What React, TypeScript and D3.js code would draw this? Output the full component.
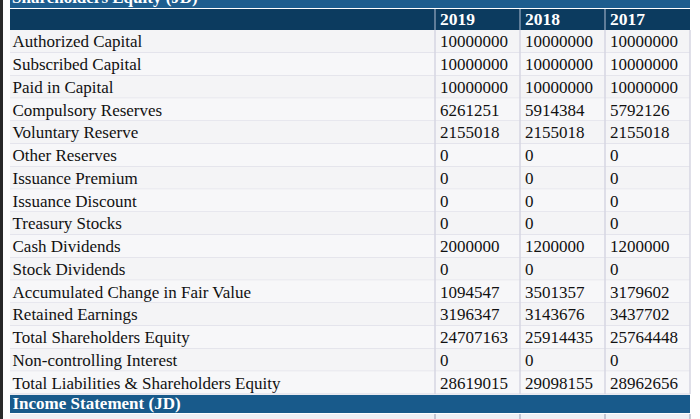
import React from 'react'
import * as d3 from 'd3'

const years = ['2019', '2018', '2017']

const items = [
    'Authorized Capital',
    'Subscribed Capital',
    'Paid in Capital',
    'Compulsory Reserves',
    'Voluntary Reserve',
    'Other Reserves',
    'Issuance Premium',
    'Issuance Discount',
    'Treasury Stocks',
    'Cash Dividends',
    'Stock Dividends',
    'Accumulated Change in Fair Value',
    'Retained Earnings',
    'Total Shareholders Equity',
    'Non-controlling Interest',
    'Total Liabilities & Shareholders Equity',
]

const values2019 = [10000000, 10000000, 10000000, 6261251, 2155018, 0, 0, 0, 0, 2000000, 0, 1094547, 3196347, 24707163, 0, 28619015]
const values2018 = [10000000, 10000000, 10000000, 5914384, 2155018, 0, 0, 0, 0, 1200000, 0, 3501357, 3143676, 25914435, 0, 29098155]
const values2017 = [10000000, 10000000, 10000000, 5792126, 2155018, 0, 0, 0, 0, 1200000, 0, 3179602, 3437702, 25764448, 0, 28962656]

const seriesByYear: Record<string, number[]> = {
    '2019': values2019,
    '2018': values2018,
    '2017': values2017,
}

const W = 700, H = 419
const FONT = '"Liberation Serif", "Times New Roman", serif'
const left = 10, right = 690, labelRight = 435
const headTop = 9, headBottom = 30, bodyBottom = 394

const x = d3.scaleBand<string>().domain(years).range([labelRight, right])
const y = d3.scaleBand<string>().domain(items).range([headBottom, bodyBottom])

const App = () => {
    const lineColor = '#d6d6e2'
    const colEdges = [labelRight, ...years.map(yr => (x(yr) as number) + x.bandwidth())]

    return (
        <svg width={W} height={H} style={{ position: 'absolute', left: 0, top: 0, background: '#fff' }}>
            {/* title band, cropped at the top as in the screenshot */}
            <rect x={left} y={0} width={right - left} height={headTop - 1} fill="#1d5d8e" />
            <text x={12} y={3} fill="#fff" fontFamily={FONT} fontWeight="bold" fontSize={17}>
                Shareholders Equity (JD)
            </text>
            <rect x={left} y={headTop} width={right - left} height={headBottom - headTop} fill="#0c3b5f" />
            {years.map(yr => (
                <g key={yr}>
                    <line x1={x(yr)} x2={x(yr)} y1={headTop} y2={headBottom} stroke="#7d95ad" strokeWidth={1.5} />
                    <text x={(x(yr) as number) + 5} y={headBottom - 5} fill="#fff" fontFamily={FONT}
                        fontWeight="bold" fontSize={17.5}>{yr}</text>
                </g>
            ))}

            {items.map((it, i) => {
                const top = y(it) as number
                const base = top + y.bandwidth() / 2 + 6
                return (
                    <g key={it}>
                        <rect x={left} y={top} width={right - left} height={y.bandwidth()} fill={i % 2 ? '#f7f7f9' : '#f4f4f6'} />
                        <line x1={left} x2={right} y1={top + y.bandwidth()} y2={top + y.bandwidth()} stroke={lineColor} />
                        <text x={12.5} y={base} fill="#111" fontFamily={FONT} fontSize={17}>{it}</text>
                        {years.map(yr => (
                            <text key={yr} x={(x(yr) as number) + 5} y={base} fill="#111" fontFamily={FONT} fontSize={17}>
                                {seriesByYear[yr][i]}
                            </text>
                        ))}
                    </g>
                )
            })}
            {colEdges.map(cx => (
                <line key={cx} x1={cx} x2={cx} y1={headBottom} y2={bodyBottom} stroke={lineColor} strokeWidth={1.5} />
            ))}

            {/* income statement band */}
            <rect x={left} y={bodyBottom + 1} width={right - left} height={18} fill="#185a8b" />
            <text x={12.5} y={bodyBottom + 15} fill="#fff" fontFamily={FONT} fontWeight="bold" fontSize={17}>
                Income Statement (JD)
            </text>
            <rect x={left} y={bodyBottom + 20} width={right - left} height={H - bodyBottom - 20} fill="#eef0f5" />
            {colEdges.map(cx => (
                <line key={'b' + cx} x1={cx} x2={cx} y1={bodyBottom + 20} y2={H} stroke="#b4b9ca" strokeWidth={1.5} />
            ))}

            {/* dark left edge of the screenshot */}
            <rect x={0} y={0} width={3} height={H} fill="#2a2a2a" />
        </svg>
    )
}

export default App
